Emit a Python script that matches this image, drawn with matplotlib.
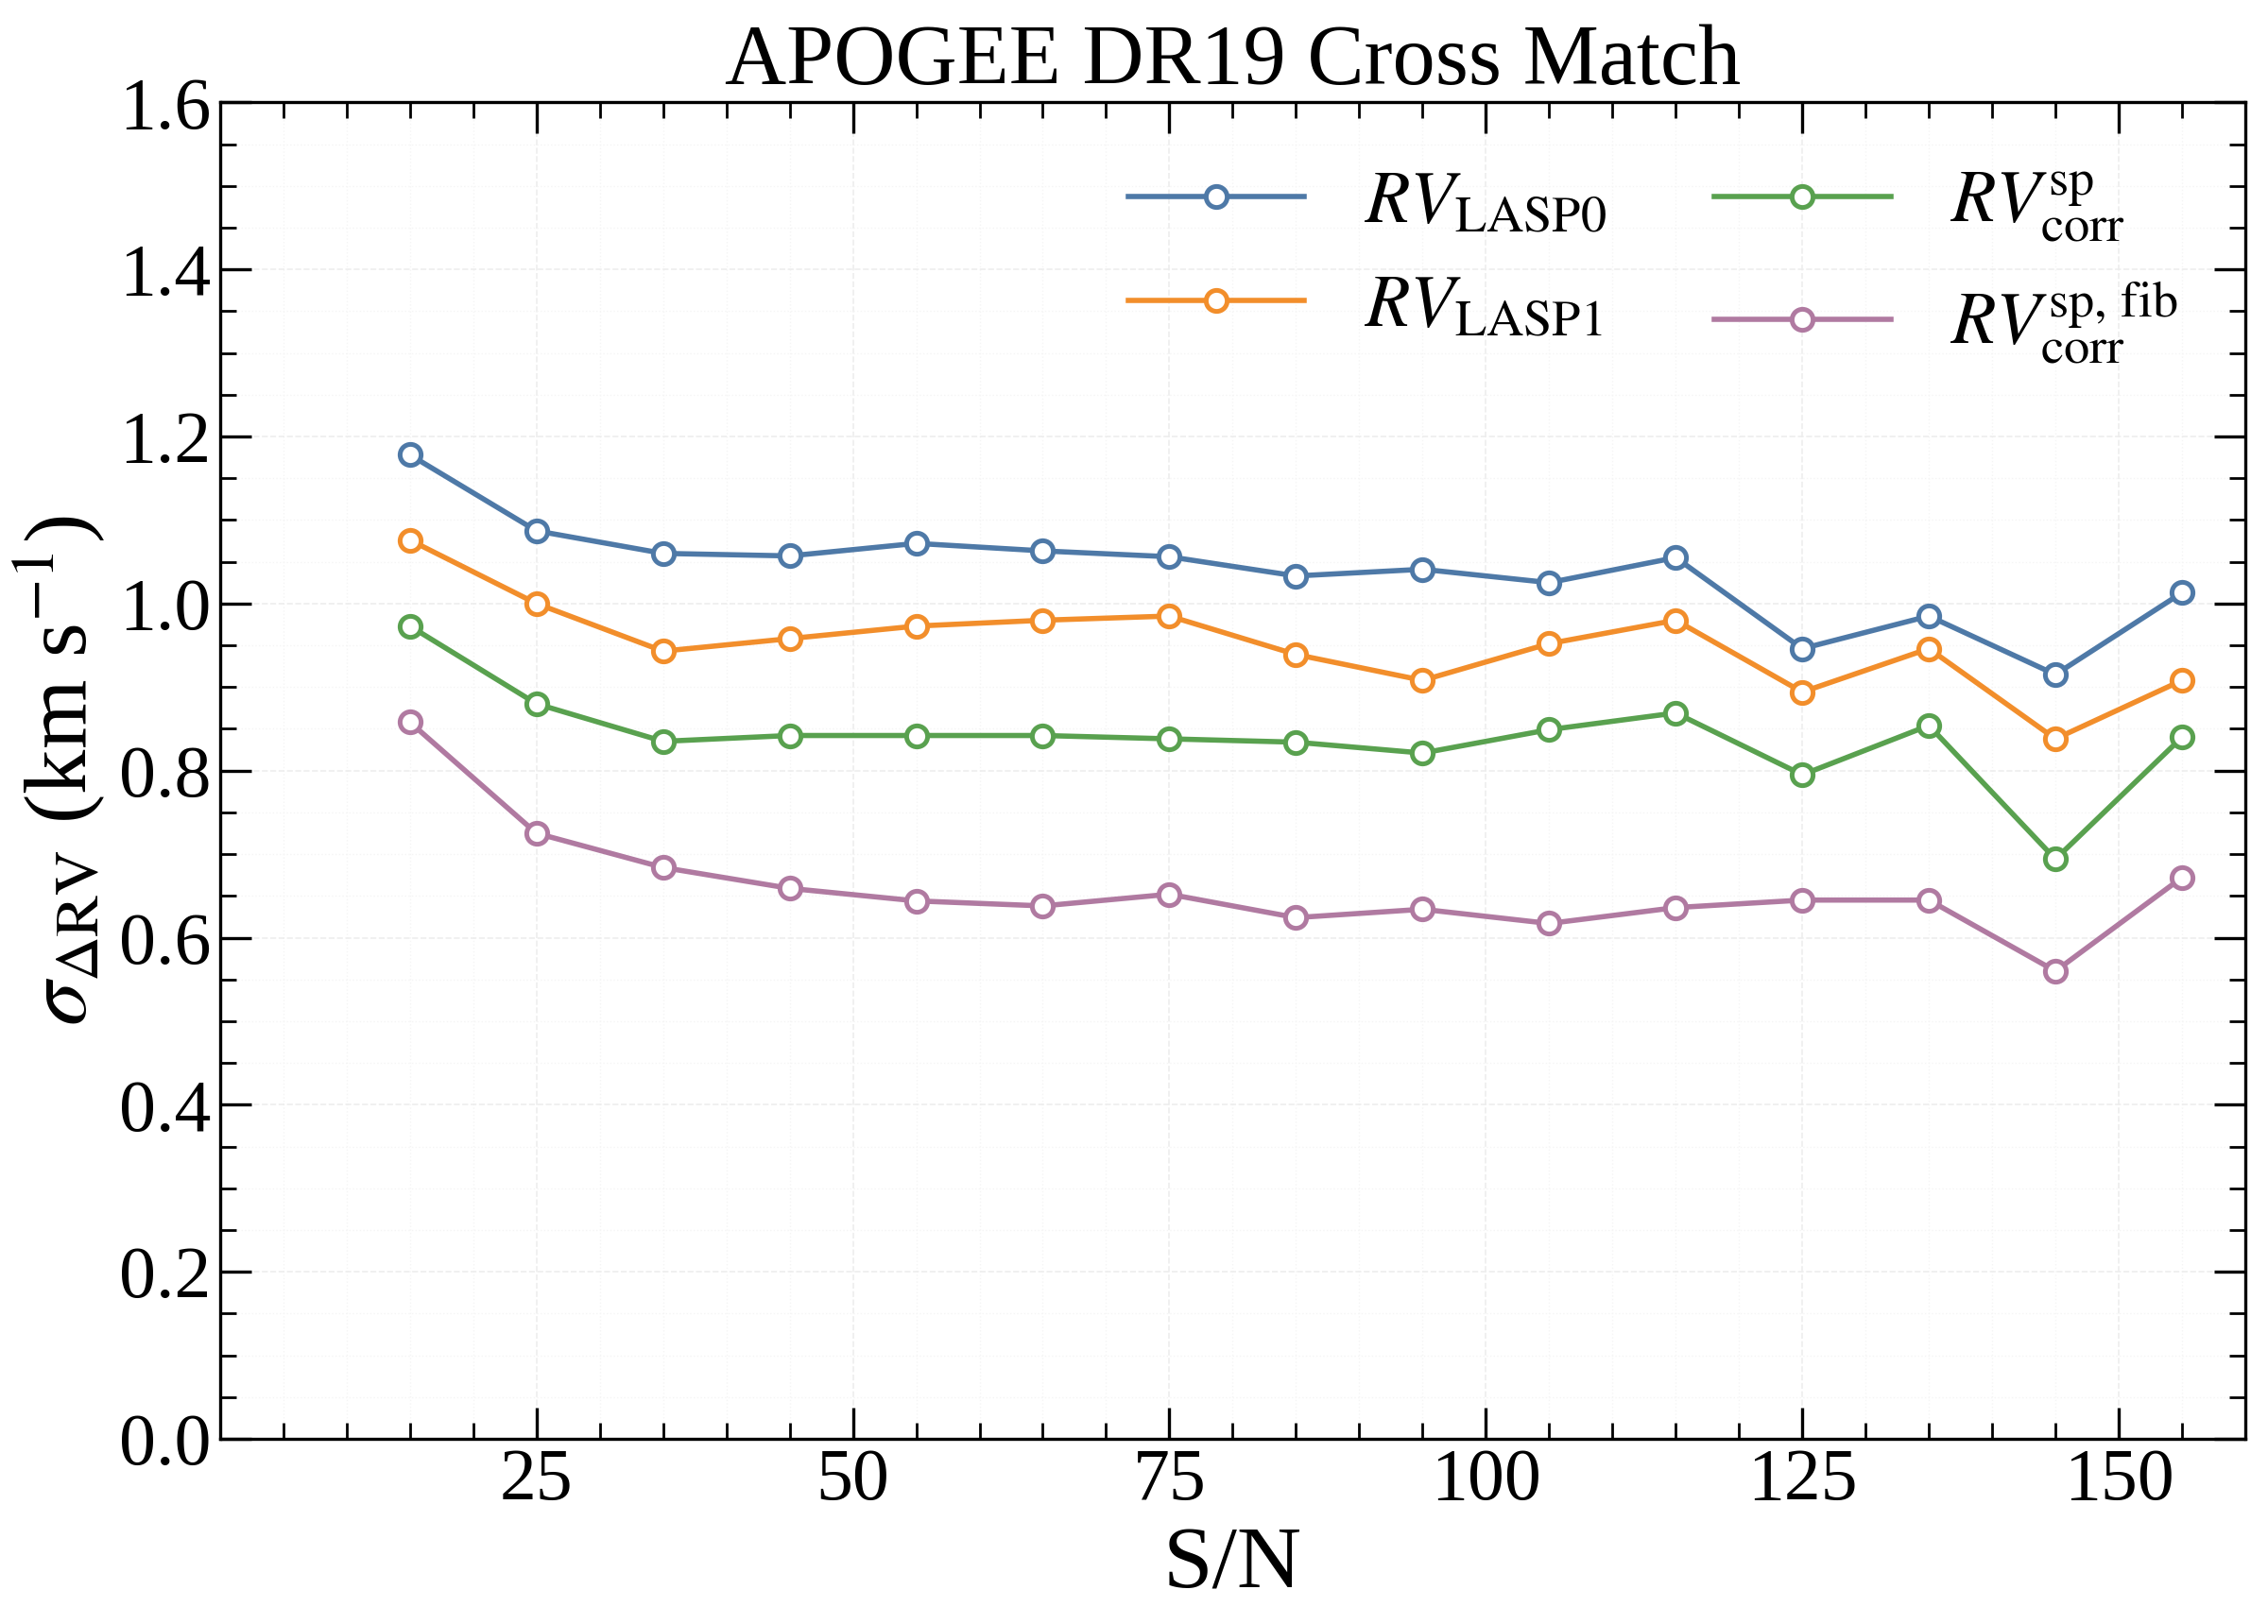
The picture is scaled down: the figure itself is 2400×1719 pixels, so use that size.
import matplotlib
matplotlib.use("Agg")
import matplotlib.pyplot as plt
from matplotlib.ticker import MultipleLocator

plt.rcParams['font.family'] = ['Liberation Serif', 'DejaVu Serif']
plt.rcParams['mathtext.fontset'] = 'stix'

snr = [15, 25, 35, 45, 55, 65, 75, 85, 95, 105, 115, 125, 135, 145, 155]
rv_lasp0 = [1.178, 1.087, 1.060, 1.057, 1.072, 1.063, 1.056, 1.033, 1.041, 1.025, 1.055, 0.946, 0.985, 0.915, 1.013]
rv_lasp1 = [1.076, 1.000, 0.943, 0.958, 0.973, 0.980, 0.985, 0.939, 0.908, 0.952, 0.980, 0.894, 0.946, 0.838, 0.908]
rv_sp = [0.973, 0.880, 0.835, 0.842, 0.842, 0.842, 0.838, 0.834, 0.821, 0.849, 0.869, 0.795, 0.854, 0.694, 0.840]
rv_spfib = [0.858, 0.725, 0.684, 0.659, 0.644, 0.638, 0.652, 0.624, 0.634, 0.617, 0.636, 0.645, 0.645, 0.560, 0.672]

labels = [r'$RV_{\rm LASP0}$', r'$RV_{\rm LASP1}$',
          r'$RV^{\rm sp}_{\rm corr}$', r'$RV^{\rm sp,\,fib}_{\rm corr}$']
colors = ['#4e79a7', '#f28e2b', '#59a14f', '#b07aa1']
series = [rv_lasp0, rv_lasp1, rv_sp, rv_spfib]
xticks = [25, 50, 75, 100, 125, 150]

fig = plt.figure(figsize=(12, 8.595), dpi=200)
ax = fig.add_axes([0.097, 0.114, 0.893, 0.823])

for y, c, lab in zip(series, colors, labels):
    ax.plot(snr, y, '-o', color=c, lw=2.0, ms=8, mfc='white', mec=c, mew=1.8, label=lab)

ax.set_xlim(0, 160)
ax.set_ylim(0, 1.6)
ax.set_xticks(xticks)
ax.xaxis.set_minor_locator(MultipleLocator(5))
ax.yaxis.set_major_locator(MultipleLocator(0.2))
ax.yaxis.set_minor_locator(MultipleLocator(0.05))
ax.tick_params(which='both', direction='in', top=True, right=True, labelsize=28)
ax.tick_params(which='major', length=12, width=1.2)
ax.tick_params(which='minor', length=6, width=1.0)
ax.yaxis.set_major_formatter(matplotlib.ticker.FormatStrFormatter('%.1f'))
for s in ax.spines.values():
    s.set_linewidth(1.2)

ax.grid(True, which='major', ls='--', color='0.93', lw=0.6)
ax.grid(True, which='minor', ls=':', color='0.96', lw=0.5)

ax.set_xlabel('S/N', fontsize=34, labelpad=4)
ax.set_ylabel(r'$\sigma_{\Delta \rm RV}$ (km s$^{-1}$)', fontsize=34)
ax.set_title('APOGEE DR19 Cross Match', fontsize=32.5, pad=6)

ax.legend(ncol=2, loc='upper right', frameon=False, fontsize=28,
          handlelength=2.4, columnspacing=1.47, borderaxespad=0.52,
          labelspacing=0.5)

fig.savefig('out.png', dpi=200)
